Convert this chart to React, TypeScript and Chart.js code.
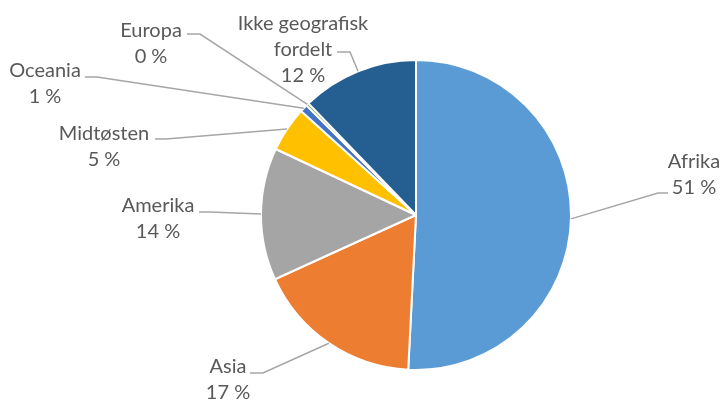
import React, { useEffect, useRef } from "react";
import { Chart, registerables } from "chart.js";

Chart.register(...registerables);

// Data
const categories = ["Afrika", "Asia", "Amerika", "Midtøsten", "Oceania", "Europa", "Ikke geografisk fordelt"];
const shares = [50.8, 17.4, 13.8, 4.7, 0.8, 0.3, 12.2];
const percentLabels = ["51 %", "17 %", "14 %", "5 %", "1 %", "0 %", "12 %"];
const categoryLines = [["Afrika"], ["Asia"], ["Amerika"], ["Midtøsten"], ["Oceania"], ["Europa"], ["Ikke geografisk", "fordelt"]];
const colors = ["#5B9BD5", "#ED7D31", "#A5A5A5", "#FFC000", "#4472C4", "#70AD47", "#255E91"];

// Label layout (text centre x, first baseline y, leader polyline points before the slice edge)
const labelLayout = [
  { x: 694, y: 168, leader: [[668, 193], [658, 193]] },
  { x: 228, y: 373, leader: [[250, 373], [263, 373]] },
  { x: 158, y: 212, leader: [[199, 212], [210, 212]] },
  { x: 104, y: 140, leader: [[155, 139], [166, 139]] },
  { x: 45, y: 77, leader: [[85, 77], [97, 77]] },
  { x: 151, y: 37, leader: [[187, 34], [200, 34]] },
  { x: 303, y: 30, leader: [[337, 52], [350, 52]] },
];
const lineHeight = 26;

const labelPlugin = {
  id: "pieLabels",
  afterDraw(chart: any) {
    const ctx = chart.ctx;
    const meta = chart.getDatasetMeta(0);
    ctx.save();
    meta.data.forEach((arc: any, i: number) => {
      const { x, y, startAngle, endAngle, outerRadius } = arc.getProps(["x", "y", "startAngle", "endAngle", "outerRadius"], true);
      const mid = (startAngle + endAngle) / 2;
      const ex = x + Math.cos(mid) * outerRadius;
      const ey = y + Math.sin(mid) * outerRadius;
      const lay = labelLayout[i];
      ctx.strokeStyle = "#A6A6A6";
      ctx.lineWidth = 1.5;
      ctx.beginPath();
      ctx.moveTo(lay.leader[0][0], lay.leader[0][1]);
      for (let k = 1; k < lay.leader.length; k++) ctx.lineTo(lay.leader[k][0], lay.leader[k][1]);
      ctx.lineTo(ex, ey);
      ctx.stroke();
      const lines = [...categoryLines[i], percentLabels[i]];
      ctx.fillStyle = "#595959";
      ctx.font = "20px Lato";
      ctx.textAlign = "center";
      ctx.textBaseline = "alphabetic";
      lines.forEach((t, j) => ctx.fillText(t, lay.x, lay.y + j * lineHeight));
    });
    ctx.restore();
  },
};

export default function App() {
  const ref = useRef<HTMLCanvasElement>(null);
  useEffect(() => {
    if (!ref.current) return;
    const chart = new Chart(ref.current, {
      type: "pie",
      data: {
        labels: categories,
        datasets: [
          {
            data: shares,
            backgroundColor: colors,
            borderColor: "#FFFFFF",
            borderWidth: 2,
          },
        ],
      },
      options: {
        responsive: false,
        animation: false,
        radius: 155,
        layout: { padding: { left: 109, right: 0, top: 29, bottom: 0 } },
        plugins: {
          legend: { display: false },
          tooltip: { enabled: false },
        },
      } as any,
      plugins: [labelPlugin],
    });
    return () => chart.destroy();
  }, []);
  return (
    <div style={{ position: "fixed", left: 0, top: 0, width: 723, height: 401, background: "#fff" }}>
      <canvas ref={ref} width={723} height={401} style={{ width: 723, height: 401 }} />
    </div>
  );
}
